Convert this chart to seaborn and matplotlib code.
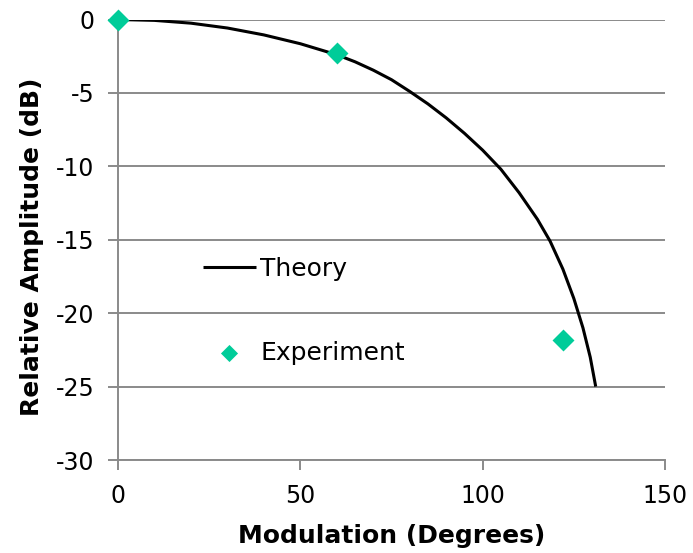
import matplotlib
matplotlib.use("Agg")
import matplotlib.pyplot as plt
import seaborn as sns

# Theory curve: relative amplitude (dB) versus modulation angle (degrees)
theory_deg = [0, 10, 20, 30, 40, 50, 60, 65, 70, 75, 80, 85, 90, 95, 100,
              105, 110, 115, 118.5, 122, 125, 127.5, 129.5, 131]
theory_db = [0, -0.06, -0.25, -0.58, -1.05, -1.65, -2.4, -2.88, -3.45, -4.1,
             -4.9, -5.75, -6.7, -7.75, -8.9, -10.2, -11.8, -13.6, -15.1,
             -17.0, -19.0, -21.0, -23.0, -25.0]

# Measured points
exp_deg = [0, 60, 122]
exp_db = [0, -2.3, -21.8]

x_ticks = [0, 50, 100, 150]
y_ticks = [0, -5, -10, -15, -20, -25, -30]

GRID = "#8a8a8a"
GREEN = "#00CC99"

sns.set_theme(style="whitegrid")
plt.rcParams["font.family"] = ["DejaVu Sans"]
plt.rcParams["axes.unicode_minus"] = False

W, H = 693, 553
fig = plt.figure(figsize=(W / 100, H / 100), dpi=100)
fig.patch.set_facecolor("white")
left, right, top, bottom = 118, 665, 19.5, 460
ax = fig.add_axes([left / W, 1 - bottom / H, (right - left) / W, (bottom - top) / H])
ax.set_facecolor("white")

sns.lineplot(x=theory_deg, y=theory_db, color="black", linewidth=2.2,
             sort=False, ax=ax, label="Theory", zorder=2,
             solid_joinstyle="round", solid_capstyle="butt")
sns.scatterplot(x=exp_deg, y=exp_db, marker="D", s=125, color=GREEN,
                linewidth=0, ax=ax, label="Experiment", zorder=3, clip_on=False)

ax.set_xlim(0, 150)
ax.set_ylim(-30, 0)
ax.set_xticks(x_ticks)
ax.set_yticks(y_ticks)

ax.grid(False)
ax.grid(axis="y", color=GRID, linewidth=1.4)
ax.set_axisbelow(True)
for side in ("top", "right"):
    ax.spines[side].set_visible(False)
for side in ("left", "bottom"):
    ax.spines[side].set_visible(True)
    ax.spines[side].set_color(GRID)
    ax.spines[side].set_linewidth(1.4)

ax.tick_params(axis="both", which="major", direction="out", length=7,
               width=1.4, color=GRID, labelsize=17, labelcolor="black",
               pad=10, left=True, bottom=True)

ax.set_xlabel("Modulation (Degrees)", fontsize=18, fontweight="bold",
              color="black", va="center")
ax.xaxis.set_label_coords(0.5, (bottom - 536) / (bottom - top))
ax.set_ylabel("Relative Amplitude (dB)", fontsize=18, fontweight="bold",
              color="black", va="center")
ax.yaxis.set_label_coords((32 - left) / (right - left), (bottom - 247) / (bottom - top))

leg = ax.legend(loc="upper left", bbox_to_anchor=(203 / W, 1 - 257 / H),
                bbox_transform=fig.transFigure, frameon=False, fontsize=18,
                handlelength=2.1, handletextpad=0.2, labelspacing=2.4,
                borderpad=0, borderaxespad=0, markerscale=0.78)
for t in leg.get_texts():
    t.set_color("black")

fig.savefig("out.png", dpi=100, facecolor="white")
